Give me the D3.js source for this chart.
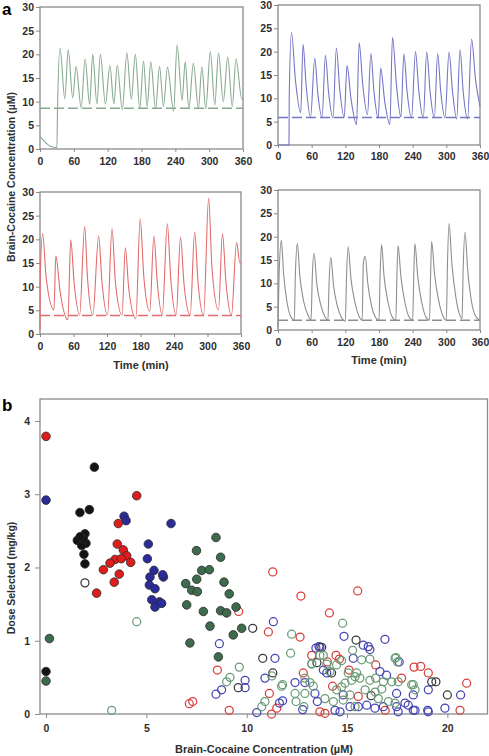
<!DOCTYPE html>
<html><head><meta charset="utf-8">
<script src="https://cdn.jsdelivr.net/npm/d3@7"></script>
<style>body{margin:0;background:#fff}svg{display:block}text{font-family:Arial,"Liberation Sans",sans-serif}</style>
</head><body>
<svg id="c" width="489" height="756"></svg>
<script>
// ---------- DATA: panel a ----------
const timeTicks = [0, 60, 120, 180, 240, 300, 360];
const concTicks = [0, 5, 10, 15, 20, 25, 30];
const thresholds = [8.6, 5.9, 3.9, 2.1]; // green, blue, red, grey

const greenTrace = [[0,2.6],[8,1.6],[18,0.6],[30,0.3],[31,8],[35.5,21.3],[44,10.6],[50,21],[58,10.8],[64,17.4],[73,8.7],[80,19],[88,9.4],[93.5,20],[101,9.5],[107,20],[116,9.5],[124,17.6],[131,9.5],[137,17.7],[146,8.3],[154,20.3],[162,10.5],[169,20],[177,8.5],[183.5,18.6],[190,9],[196.5,18.4],[205,8.5],[212,17.4],[219,9],[226,17.3],[237,8],[243,22],[252,10.3],[257.5,18.4],[264,8.5],[272,18.1],[281,8.5],[287,17.3],[294,8.5],[302,20.6],[310,9.3],[316.5,20.3],[325,10],[333,19.4],[341,9],[347.5,19],[358,10.5],[360,10.5]];

const blueTrace = [[0,0],[19.6,0],[20,10],[24,24.1],[31,14],[40.5,6.9],[44.6,21.6],[50,13],[58,5.9],[65.5,18.6],[71,11],[78.5,5.9],[84.5,19.2],[90,11.5],[98,5.8],[104,20.8],[110,12],[118,5.9],[123,17],[130,10],[140,4.4],[144.6,21.9],[151,13],[159.5,6.5],[165.5,19.6],[171,11.5],[178.6,5.8],[183,16.5],[190,9.5],[199.4,4.4],[204,23.1],[211,13],[219,6],[224.4,19.5],[230,11.5],[238,5.8],[245,20],[251,11.5],[259,5.8],[265,19.9],[271,11.5],[278.6,5.8],[284.5,19.6],[290,11.5],[297.6,5.8],[304.8,19.9],[311,11.5],[318.5,5.6],[324.4,20.4],[330,11.5],[338,5.6],[345,22.7],[352,14],[360,8.3]];

const redTrace = [[0,0.9],[0.5,12],[4.7,21.2],[11,12],[25,5.1],[28.4,16.5],[36,9],[50,3],[55,19.9],[61,11],[71,4],[80,22.7],[85,12],[94.7,4],[105,20.7],[111,11],[121,4],[129,22.3],[135,11],[147,4],[152.8,18.2],[159,9.5],[171.7,3.3],[179.4,24.3],[186,12],[196.6,4.8],[204,20.7],[210,11],[219,4],[228,23.3],[234,12],[244,4],[251.6,20.5],[258,10.5],[269,4],[277,21.6],[283,11],[293,4],[302,28.7],[308,14],[319.7,5.1],[326.8,21.2],[333,11],[343,4],[352,19.3],[358,15],[360,15]];

const greyTrace = [[0,0.6],[2,12],[6,19.2],[10,12],[16,6],[24,2.6],[29,2.1],[31,12],[34.5,18.5],[39,11.5],[46,6],[54,3],[59,2.1],[61,11],[64.3,16.5],[69,10],[76,5.5],[84,2.8],[89,2.1],[91,10],[94,15.6],[99,9.5],[106,5],[114,2.5],[120,1.9],[122,11],[125,17.9],[130,11],[137,6],[145,2.8],[150,2.1],[152,14],[154,15.5],[155.5,15.8],[160,10],[167,5],[175,2.5],[180,2.1],[182,12],[184.5,18.3],[189,11.5],[196,6],[204,2.7],[210,2.1],[212,12],[214,18.1],[219,11.5],[226,6],[234,2.7],[240,2.1],[242,12],[244,18.5],[249,11.5],[256,6],[264,2.7],[270,2.1],[272,12],[273.8,19],[279,12],[286,6.5],[294,3],[300,2.1],[302,14],[304.8,22.8],[310,14],[317,7],[324,3.2],[328,2.4],[330,13],[333.3,21],[338,13],[345,6],[352,3],[360,2.1]];

// ---------- DATA: panel b ----------
const brainTicks = [0, 5, 10, 15, 20];
const doseTicks = [0, 1, 2, 3, 4];

const filledBlack = [[0,0.58],[2.41,3.37],[1.69,2.75],[2.16,2.79],[1.56,2.37],[1.94,2.46],[1.99,2.33],[1.78,2.3],[1.86,2.39],[1.89,2.18],[1.94,2.05],[1.7,2.42]];
const filledRed = [[0,3.79],[4.52,2.98],[3.6,2.6],[3.55,2.32],[3.85,2.24],[4.02,2.16],[4.22,2.07],[3.44,2.11],[3.19,2.06],[2.86,1.97],[3.65,1.91],[3.4,1.8],[2.52,1.65],[3.75,2.12]];
const filledBlue = [[0,2.92],[3.89,2.7],[3.99,2.64],[6.23,2.6],[5.1,2.32],[5.05,2.12],[5.38,1.96],[5.18,1.87],[5.85,1.87],[5.15,1.76],[5.43,1.71],[5.27,1.56],[5.65,1.53],[5.43,1.46],[5.76,1.51],[5.81,1.9]];
const filledGreen = [[0.17,1.03],[0,0.45],[7.5,2.23],[8.47,2.41],[8.7,2.14],[7.76,1.96],[8.14,1.97],[6.96,1.78],[7.51,1.84],[8.87,1.8],[7.26,1.69],[7.54,1.67],[7.01,1.49],[7.84,1.4],[9.13,1.64],[8.7,1.41],[9.0,1.38],[9.47,1.46],[8.17,1.2],[9.33,1.08],[9.75,1.17],[7.17,0.97],[8.59,0.78]];

const openRed = [[9.6,1.4],[8.54,0.6],[7.14,0.14],[7.31,0.17],[9.13,0.05],[11.3,1.94],[12.7,1.61],[15.53,1.68],[14.12,1.38],[11.08,1.12],[12.66,1.05],[14.02,0.71],[14.62,0.75],[18.34,0.64],[18.67,0.65],[19.05,0.56],[20.96,0.42],[20.63,0.05],[11.13,0.28],[11.24,0.0],[13.24,0.8],[14.45,0.8],[12.82,0.56],[14.28,0.38],[13.65,0.03],[13.9,0.01],[16.43,0.67],[17.72,0.49],[15.56,0.24],[11.5,0.08],[16.9,0.05],[15.1,0.6]];
const openBlue = [[8.64,0.96],[8.75,0.33],[8.47,0.27],[9.92,0.46],[9.92,0.36],[11.33,1.26],[14.85,1.06],[16.89,1.02],[13.65,0.91],[13.45,0.9],[15.81,0.94],[16.14,0.88],[11.41,0.76],[15.31,0.76],[17.6,0.71],[19.05,0.33],[20.66,0.26],[19.88,0.08],[19.05,0.03],[18.3,0.05],[17.89,0.15],[17.47,0.1],[18.3,0.26],[10.91,0.49],[11.63,0.15],[13.6,0.92],[13.82,0.6],[13.99,0.56],[12.9,0.43],[12.41,0.43],[13.4,0.28],[13.52,0.17],[11.79,0.18],[14.4,0.05],[14.65,0.03],[15.15,0.1],[12.79,0.06],[16.06,0.92],[16.64,0.58],[16.97,0.53],[17.47,0.28],[18.05,0.12],[15.56,0.1],[15.98,0.12],[16.39,0.08],[16.81,0.1],[17.55,0.03],[18.39,0.05],[19.02,0.05],[14.81,0.26],[10.5,0.02]];
const openBlack = [[1.94,1.79],[9.58,0.36],[10.3,1.17],[15.45,1.01],[10.8,0.76],[19.43,0.44],[20.0,0.26],[11.3,0.56],[13.74,0.91],[14.23,0.56],[19.22,0.44],[13.5,0.7],[16.2,0.25]];
const openGreen = [[4.52,1.26],[3.27,0.05],[9.17,0.5],[9.63,0.64],[9.0,0.44],[14.78,1.24],[12.24,1.09],[12.19,0.83],[13.65,0.8],[13.24,0.69],[15.28,0.87],[16.14,0.75],[15.73,0.74],[17.44,0.77],[18.3,0.4],[18.39,0.33],[11.25,0.52],[11.74,0.38],[10.91,0.17],[10.75,0.1],[13.82,0.8],[13.24,0.68],[13.99,0.68],[14.15,0.58],[14.73,0.73],[14.48,0.67],[12.9,0.49],[13.15,0.43],[13.32,0.38],[11.79,0.4],[15.06,0.56],[15.23,0.46],[14.9,0.42],[15.4,0.51],[14.48,0.33],[14.73,0.37],[12.41,0.28],[12.46,0.17],[12.9,0.28],[12.85,0.1],[13.9,0.21],[14.32,0.17],[15.15,0.26],[14.81,0.19],[15.4,0.1],[17.39,0.76],[17.52,0.71],[15.48,0.56],[15.64,0.49],[16.14,0.46],[16.43,0.49],[16.81,0.44],[17.23,0.44],[17.55,0.44],[18.22,0.4],[15.9,0.33],[16.4,0.3],[16.73,0.34],[16.56,0.21],[17.06,0.17],[17.39,0.15]];

// ---------- DRAW ----------
const svg = d3.select('#c');
const FONT = 'Arial,"Liberation Sans",sans-serif';
const frameCol = '#8a8a8a';
const tickTextCol = '#2e2e2e';

function styleAxis(g) {
  g.select('.domain').remove();
  g.selectAll('.tick line').attr('stroke', frameCol).attr('stroke-width', 1);
  g.selectAll('.tick text').attr('fill', tickTextCol).attr('font-size', 10.5)
    .attr('font-weight', 'bold').attr('font-family', FONT);
}

const panels = [
  {trace: greenTrace, thr: thresholds[0], color: '#88aa91', xr: [40, 243], yr: [149, 7], pad: 6},
  {trace: blueTrace,  thr: thresholds[1], color: '#7676c6', xr: [278, 480], yr: [145, 5], pad: 5},
  {trace: redTrace,   thr: thresholds[2], color: '#e26b6b', xr: [40, 241], yr: [334, 192], pad: 5.5, title: [141, 369]},
  {trace: greyTrace,  thr: thresholds[3], color: '#8e8e8e', xr: [278, 480], yr: [330, 190], pad: 5.5, title: [379, 364]}
];

panels.forEach(p => {
  const x = d3.scaleLinear().domain([0, 360]).range(p.xr);
  const y = d3.scaleLinear().domain([0, 30]).range(p.yr);
  const g = svg.append('g');
  g.append('rect').attr('x', p.xr[0]).attr('y', p.yr[1])
    .attr('width', p.xr[1] - p.xr[0]).attr('height', p.yr[0] - p.yr[1])
    .attr('fill', 'none').attr('stroke', frameCol).attr('stroke-width', 1.3);
  g.append('line').attr('x1', x(0)).attr('x2', x(360)).attr('y1', y(p.thr)).attr('y2', y(p.thr))
    .attr('stroke', p.color).attr('stroke-width', 1.4).attr('stroke-dasharray', '10,4');
  const line = d3.line().x(d => x(d[0])).y(d => y(d[1])).curve(d3.curveMonotoneX);
  g.append('path').datum(p.trace).attr('d', line)
    .attr('fill', 'none').attr('stroke', p.color).attr('stroke-width', 1.1);
  g.append('g').attr('transform', `translate(0,${p.yr[0]})`)
    .call(d3.axisBottom(x).tickValues(timeTicks).tickSize(3).tickPadding(p.pad)).call(styleAxis);
  g.append('g').attr('transform', `translate(${p.xr[0]},0)`)
    .call(d3.axisLeft(y).tickValues(concTicks).tickSize(4).tickPadding(2)).call(styleAxis);
  if (p.title) {
    g.append('text').attr('x', p.title[0]).attr('y', p.title[1]).attr('text-anchor', 'middle')
      .attr('font-size', 11).attr('font-weight', 'bold').attr('fill', tickTextCol).text('Time (min)');
  }
});

svg.append('text').attr('transform', 'translate(15,177) rotate(-90)').attr('text-anchor', 'middle')
  .attr('font-size', 10.5).attr('font-weight', 'bold').attr('fill', tickTextCol)
  .text('Brain-Cocaine Concentration (\u00b5M)');
svg.append('text').attr('x', 2).attr('y', 15).attr('font-size', 17).attr('font-weight', 'bold').text('a');

// ---------- panel b ----------
const bx = d3.scaleLinear().domain([-0.3, 22]).range([40, 487.5]);
const by = d3.scaleLinear().domain([0, 4.3]).range([714, 399]);
const gb = svg.append('g');
gb.append('rect').attr('x', 40).attr('y', 399).attr('width', 447.5).attr('height', 315)
  .attr('fill', 'none').attr('stroke', frameCol).attr('stroke-width', 1.3);

const openSets = [
  {data: openRed, col: '#d8403c'},
  {data: openBlue, col: '#4444b4'},
  {data: openBlack, col: '#3a3a3a'},
  {data: openGreen, col: '#6a9b76'}
];
openSets.forEach(s => {
  gb.append('g').selectAll('circle').data(s.data).join('circle')
    .attr('cx', d => bx(d[0])).attr('cy', d => by(d[1])).attr('r', 4)
    .attr('fill', 'none').attr('stroke', s.col).attr('stroke-width', 1.25);
});
const filledSets = [
  {data: filledGreen, col: '#3e6b4b'},
  {data: filledBlue, col: '#2b2b9c'},
  {data: filledRed, col: '#e01d1d'},
  {data: filledBlack, col: '#141414'}
];
filledSets.forEach(s => {
  gb.append('g').selectAll('circle').data(s.data).join('circle')
    .attr('cx', d => bx(d[0])).attr('cy', d => by(d[1])).attr('r', 4.3)
    .attr('fill', s.col).attr('stroke', '#2a2a2a').attr('stroke-width', 0.8);
});

gb.append('g').attr('transform', 'translate(0,714)')
  .call(d3.axisBottom(bx).tickValues(brainTicks).tickFormat(d3.format('d')).tickSize(4).tickPadding(7)).call(styleAxis);
gb.append('g').attr('transform', 'translate(40,0)')
  .call(d3.axisLeft(by).tickValues(doseTicks).tickFormat(d3.format('d')).tickSize(5).tickPadding(5)).call(styleAxis);

svg.append('text').attr('x', 264).attr('y', 753).attr('text-anchor', 'middle')
  .attr('font-size', 11).attr('font-weight', 'bold').attr('fill', tickTextCol)
  .text('Brain-Cocaine Concentration (\u00b5M)');
svg.append('text').attr('transform', 'translate(15,578) rotate(-90)').attr('text-anchor', 'middle')
  .attr('font-size', 10.5).attr('font-weight', 'bold').attr('fill', tickTextCol)
  .text('Dose Selected (mg/kg)');
svg.append('text').attr('x', 2).attr('y', 411).attr('font-size', 17).attr('font-weight', 'bold').text('b');
</script>
</body></html>
